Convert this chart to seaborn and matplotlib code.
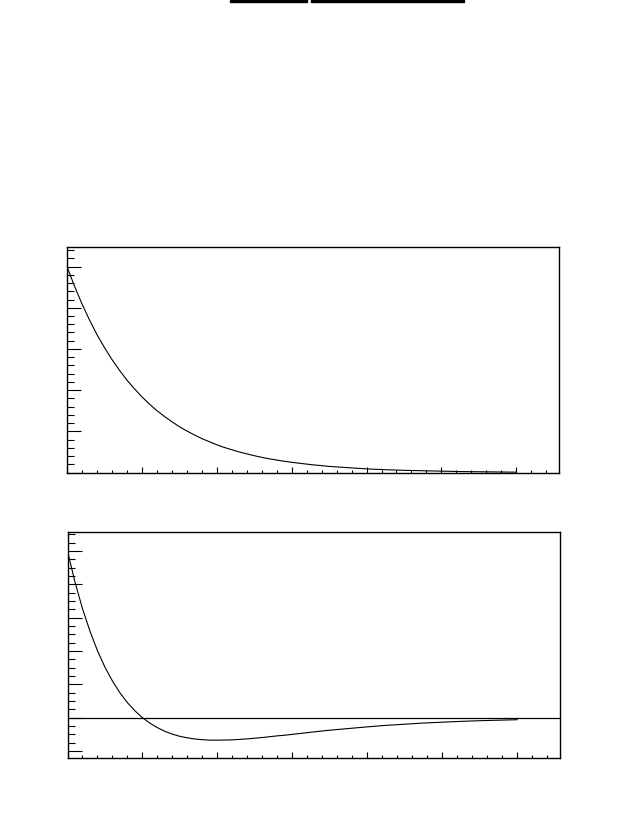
import numpy as np
import pandas as pd
import matplotlib
matplotlib.use("Agg")
import matplotlib.pyplot as plt
import seaborn as sns
from matplotlib.ticker import MultipleLocator, NullFormatter
from matplotlib.patches import Rectangle

# valores
x_vals = [0.0, 0.1, 0.2, 0.3, 0.4, 0.5, 0.6, 0.7, 0.8, 0.9, 1.0, 1.1, 1.2, 1.3,
          1.4, 1.5, 1.6, 1.7, 1.8, 1.9, 2.0, 2.1, 2.2, 2.3, 2.4, 2.5, 2.6, 2.7,
          2.8, 2.9, 3.0, 3.25, 3.5, 3.75, 4.0, 4.25, 4.5, 4.75, 5.0, 5.25, 5.5,
          5.75, 6.0]
y_top = [1.000, 0.905, 0.819, 0.741, 0.670, 0.607, 0.549, 0.497, 0.449, 0.407,
         0.368, 0.333, 0.301, 0.273, 0.247, 0.223, 0.202, 0.183, 0.165, 0.150,
         0.135, 0.122, 0.111, 0.100, 0.091, 0.082, 0.074, 0.067, 0.061, 0.055,
         0.050, 0.039, 0.030, 0.024, 0.018, 0.014, 0.011, 0.009, 0.007, 0.005,
         0.004, 0.003, 0.002]
y_bottom = [1.000, 0.814, 0.655, 0.519, 0.402, 0.303, 0.220, 0.149, 0.090, 0.041,
            0.000, -0.033, -0.060, -0.082, -0.099, -0.112, -0.121, -0.128,
            -0.132, -0.135, -0.135, -0.134, -0.133, -0.130, -0.127, -0.123,
            -0.119, -0.114, -0.109, -0.105, -0.100, -0.087, -0.075, -0.065,
            -0.055, -0.046, -0.039, -0.032, -0.027, -0.022, -0.018, -0.015,
            -0.012]

sns.set_style("white")

fig = plt.figure(figsize=(6.28, 8.19), dpi=100)

# barras del titulo arriba
fig.patches.append(Rectangle((230 / 628, 817 / 819), 77 / 628, 2 / 819,
                             transform=fig.transFigure, color="black"))
fig.patches.append(Rectangle((311 / 628, 817 / 819), 153 / 628, 2 / 819,
                             transform=fig.transFigure, color="black"))

ax1 = fig.add_axes([67 / 628, 1 - 473 / 819, 492 / 628, 226 / 819])
ax2 = fig.add_axes([67.5 / 628, 1 - 758 / 819, 492.5 / 628, 226 / 819])

df = pd.DataFrame({"x": x_vals, "top": y_top, "bottom": y_bottom})

sns.lineplot(data=df, x="x", y="top", ax=ax1, color="black", lw=0.8)
sns.lineplot(data=df, x="x", y="bottom", ax=ax2, color="black", lw=0.8)
ax2.axhline(0, color="black", lw=0.9)

ax1.set_ylim(-0.002, 1.095)
ax2.set_ylim(-0.242, 1.115)
ax1.yaxis.set_major_locator(MultipleLocator(0.2))
ax1.yaxis.set_minor_locator(MultipleLocator(0.04))
ax2.yaxis.set_major_locator(MultipleLocator(0.2))
ax2.yaxis.set_minor_locator(MultipleLocator(0.05))

for ax in (ax1, ax2):
    ax.set_xlim(0, 6.57)
    ax.xaxis.set_major_locator(MultipleLocator(1))
    ax.xaxis.set_minor_locator(MultipleLocator(0.2))
    ax.xaxis.set_major_formatter(NullFormatter())
    ax.yaxis.set_major_formatter(NullFormatter())
    ax.set_xlabel("")
    ax.set_ylabel("")
    for s in ax.spines.values():
        s.set_color("black")
        s.set_linewidth(1.0)
    ax.tick_params(axis="y", which="major", direction="in", length=10, width=0.8,
                   left=True, right=False, color="black")
    ax.tick_params(axis="y", which="minor", direction="in", length=5, width=0.8,
                   left=True, right=False, color="black")
    ax.tick_params(axis="x", which="major", direction="in", length=4.3, width=0.8,
                   bottom=True, top=False, color="black")
    ax.tick_params(axis="x", which="minor", direction="in", length=2.2, width=0.8,
                   bottom=True, top=False, color="black")

fig.savefig("out.png", dpi=100)
